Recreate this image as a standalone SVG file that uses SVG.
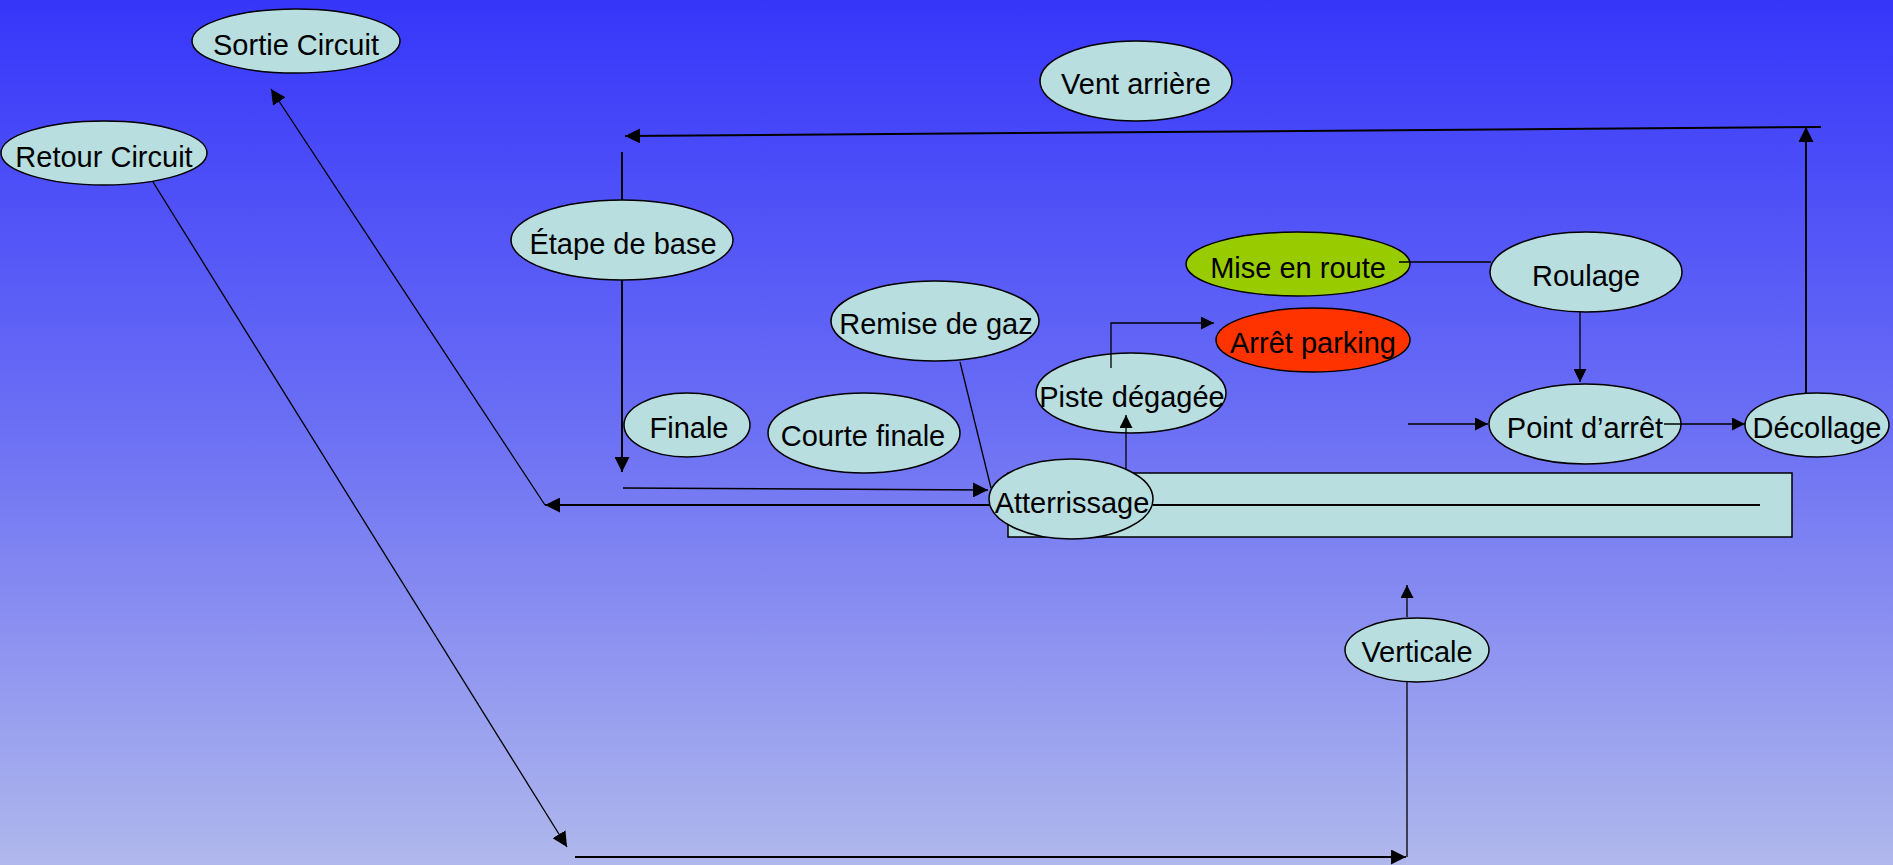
<svg xmlns="http://www.w3.org/2000/svg" width="1893" height="865" viewBox="0 0 1893 865">
<defs>
<linearGradient id="bg" x1="0" y1="0" x2="0" y2="1">
<stop offset="0" stop-color="#3636FA"/>
<stop offset="0.5" stop-color="#6C70F4"/>
<stop offset="1" stop-color="#B0B8EC"/>
</linearGradient>
<marker id="ah" viewBox="0 0 10 10" refX="10" refY="5" markerWidth="13" markerHeight="13" markerUnits="userSpaceOnUse" orient="auto">
<path d="M0,0 L10,5 L0,10 z" fill="#000"/>
</marker>
<marker id="ahL" viewBox="0 0 10 10" refX="10" refY="5" markerWidth="15" markerHeight="15" markerUnits="userSpaceOnUse" orient="auto">
<path d="M0,0 L10,5 L0,10 z" fill="#000"/>
</marker>
</defs>
<style>
.n ellipse{fill:#B8DEE0;stroke:#000;stroke-width:1.5}
.n text{font-family:"Liberation Sans",Arial,sans-serif;font-size:29px;fill:#000;text-anchor:middle}
.c line,.c polyline{stroke:#000;stroke-width:2;fill:none}
.thin{stroke-width:1.3 !important}
</style>
<rect x="0" y="0" width="1893" height="865" fill="url(#bg)"/>

<g id="runway">
<rect x="1008" y="473" width="784" height="64" fill="#B8DEE0" stroke="#000" stroke-width="1.5"/>
</g>

<g class="n" id="sortie-circuit"><ellipse cx="296" cy="41" rx="104" ry="32"/><text x="296" y="55">Sortie Circuit</text></g>
<g class="n" id="retour-circuit"><ellipse cx="104" cy="153" rx="103" ry="32"/><text x="104" y="167">Retour Circuit</text></g>
<g class="n" id="vent-arriere"><ellipse cx="1136" cy="81" rx="96" ry="40"/><text x="1136" y="94">Vent arrière</text></g>
<g class="n" id="etape-de-base"><ellipse cx="622" cy="240" rx="111" ry="40"/><text x="623" y="254">Étape de base</text></g>
<g class="n" id="finale"><ellipse cx="687" cy="425" rx="63" ry="32"/><text x="689" y="438">Finale</text></g>
<g class="n" id="courte-finale"><ellipse cx="864" cy="433" rx="96" ry="40"/><text x="863" y="446">Courte finale</text></g>
<g class="n" id="remise-de-gaz"><ellipse cx="935" cy="321" rx="104" ry="40"/><text x="936" y="334">Remise de gaz</text></g>
<g class="n" id="piste-degagee"><ellipse cx="1131" cy="393" rx="95" ry="40"/><text x="1132" y="407">Piste dégagée</text></g>
<g class="n" id="atterrissage"><ellipse cx="1071" cy="499" rx="82" ry="40"/><text x="1072" y="513">Atterrissage</text></g>
<g class="n" id="mise-en-route"><ellipse cx="1298" cy="264" rx="112" ry="32" style="fill:#99CC00"/><text x="1298" y="278">Mise en route</text></g>
<g class="n" id="arret-parking"><ellipse cx="1313" cy="340" rx="97" ry="32" style="fill:#FF3300"/><text x="1313" y="353">Arrêt parking</text></g>
<g class="n" id="roulage"><ellipse cx="1586" cy="272" rx="96" ry="40"/><text x="1586" y="286">Roulage</text></g>
<g class="n" id="point-arret"><ellipse cx="1585" cy="424" rx="96" ry="40"/><text x="1585" y="438">Point d’arrêt</text></g>
<g class="n" id="decollage"><ellipse cx="1817" cy="425" rx="72" ry="32"/><text x="1817" y="438">Décollage</text></g>
<g class="n" id="verticale"><ellipse cx="1417" cy="650" rx="72" ry="32"/><text x="1417" y="662">Verticale</text></g>

<g class="c" id="connectors">
<line x1="1153" y1="505" x2="1760" y2="505"/>
<line x1="1821" y1="127" x2="625" y2="136" marker-end="url(#ahL)"/>
<line x1="1806" y1="393" x2="1806" y2="127" marker-end="url(#ahL)"/>
<line x1="622" y1="152" x2="622" y2="200"/>
<line x1="622" y1="280" x2="622" y2="472" marker-end="url(#ahL)"/>
<line class="thin" x1="623" y1="488" x2="988" y2="490" marker-end="url(#ahL)"/>
<line class="thin" x1="960" y1="362" x2="991" y2="488"/>
<line x1="990" y1="505" x2="545" y2="505" marker-end="url(#ahL)"/>
<line class="thin" x1="545" y1="505" x2="271" y2="89" marker-end="url(#ahL)"/>
<line class="thin" x1="153" y1="182" x2="567" y2="847" marker-end="url(#ahL)"/>
<line x1="575" y1="857" x2="1406" y2="857" marker-end="url(#ahL)"/>
<line class="thin" x1="1407" y1="857" x2="1407" y2="682"/>
<line class="thin" x1="1407" y1="617" x2="1407" y2="585" marker-end="url(#ah)"/>
<line class="thin" x1="1126" y1="470" x2="1126" y2="415" marker-end="url(#ah)"/>
<polyline class="thin" points="1111,368 1111,323 1214,323" marker-end="url(#ah)"/>
<line class="thin" x1="1399" y1="262" x2="1491" y2="262"/>
<line class="thin" x1="1580" y1="312" x2="1580" y2="382" marker-end="url(#ah)"/>
<line class="thin" x1="1408" y1="424" x2="1488" y2="424" marker-end="url(#ah)"/>
<line class="thin" x1="1664" y1="424" x2="1745" y2="424" marker-end="url(#ah)"/>
</g>
</svg>
